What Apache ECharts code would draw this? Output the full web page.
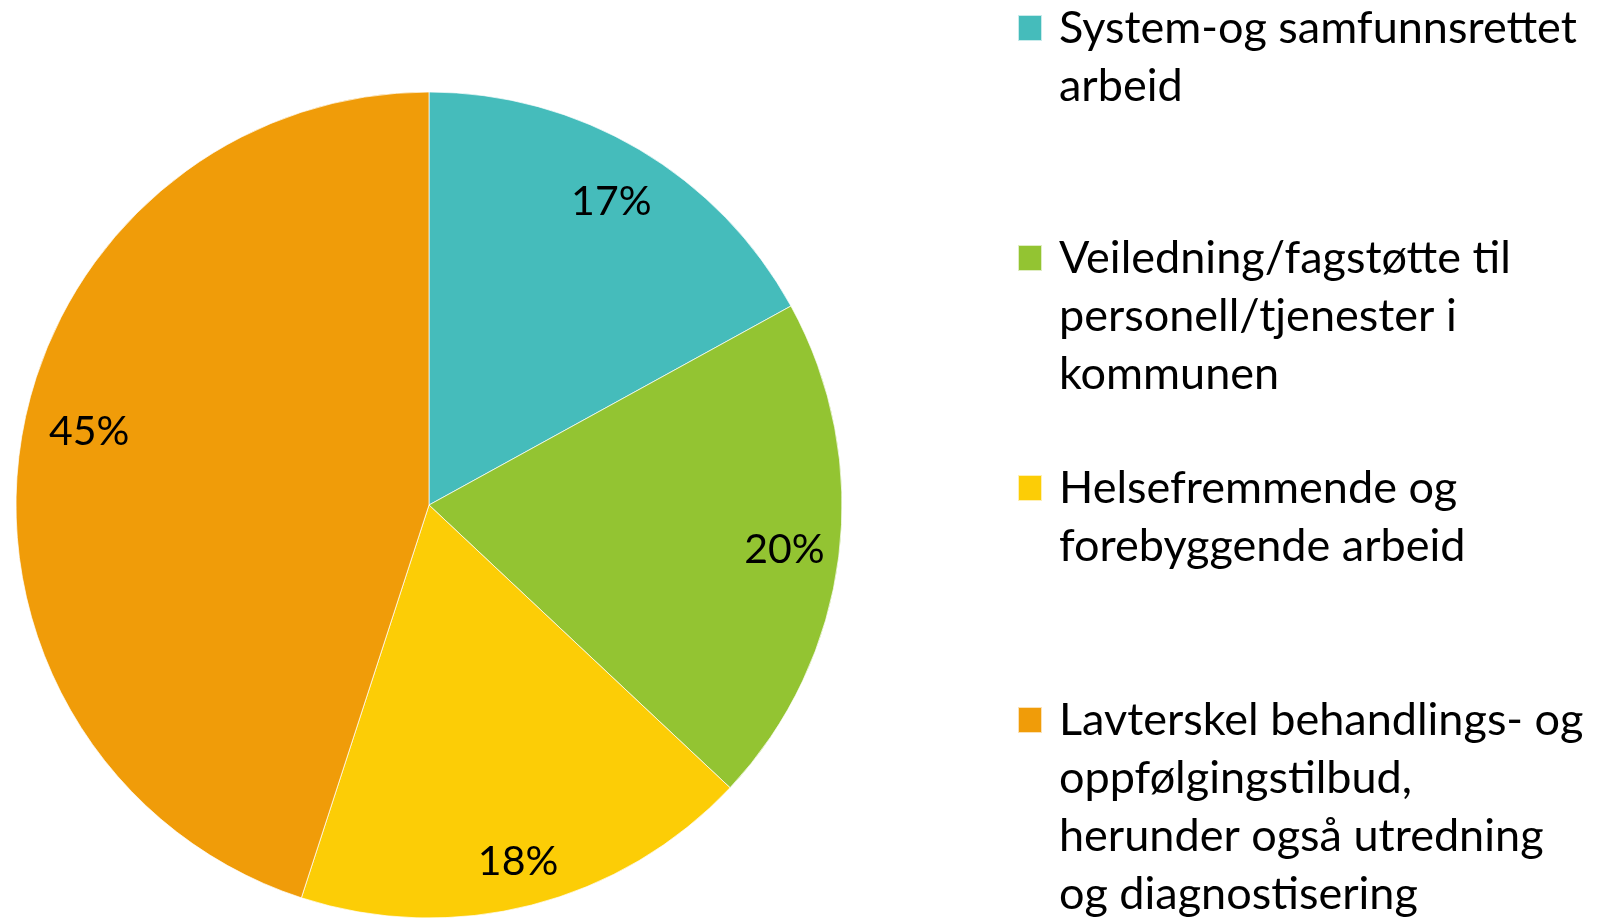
<!DOCTYPE html>
<html>
<head>
<meta charset="utf-8">
<title>Pie</title>
<script src="https://cdn.jsdelivr.net/npm/echarts@6/dist/echarts.min.js"></script>
<style>
  html, body { margin: 0; padding: 0; background: #fff; }
  #chart { width: 1599px; height: 919px; }
</style>
</head>
<body>
<div id="chart"></div>
<script>
// kategorier (linjeskift som i forklaringen)
const categoryLines = [
    ['System-og samfunnsrettet', 'arbeid'],
    ['Veiledning/fagstøtte til', 'personell/tjenester i', 'kommunen'],
    ['Helsefremmende og', 'forebyggende arbeid'],
    ['Lavterskel behandlings- og', 'oppfølgingstilbud,', 'herunder også utredning', 'og diagnostisering']
]
const values = [17, 20, 18, 45]
const colors = ['#45BCBB', '#93C432', '#FCCD06', '#F09C09']

const categories = categoryLines.map(l => l.join(' '))

const CX = 429, CY = 505, R = 413
const LINE_H = 58
const FONT = 'Lato, "Noto Sans", sans-serif'
// midtpunkt (y) for hver forklaringsrute
const legendCenters = [28, 258, 488, 720]
// små justeringer av etikettene, som i originalen
const labelOffsets = [[0, 5], [0, 0], [0, 10], [14, -17]]

const chart = echarts.init(document.getElementById('chart'))

const pieData = categories.map((name, i) => ({
    name,
    value: values[i],
    itemStyle: { color: colors[i] }
}))

// en forklaring per kategori, slik at de får lik avstand
const legends = categoryLines.map((lines, i) => {
    const n = lines.length
    return {
        data: [categories[i]],
        orient: 'vertical',
        left: 1017,
        top: legendCenters[i] - (2 * n - 1) * LINE_H / 2,
        padding: 0,
        itemWidth: 24,
        itemHeight: 26,
        icon: 'rect',
        selectedMode: false,
        // tomme linjer foran, så ruten står ved første linje
        formatter: () => '\n'.repeat(n - 1) + lines.join('\n'),
        textStyle: {
            fontFamily: FONT,
            fontSize: 45,
            lineHeight: LINE_H,
            color: '#000',
            padding: [0, 0, 0, 12]
        }
    }
})

chart.setOption({
    animation: false,
    legend: legends,
    series: [
        {
            type: 'pie',
            center: [CX, CY],
            radius: R,
            startAngle: 90,
            clockwise: true,
            label: { show: false },
            labelLine: { show: false },
            itemStyle: { borderColor: 'rgba(255,255,255,0.7)', borderWidth: 1 },
            data: pieData
        },
        {
            // bare for etikettene, litt ut mot kanten
            type: 'pie',
            center: [CX, CY],
            radius: [R * 0.72, R],
            startAngle: 90,
            clockwise: true,
            silent: true,
            itemStyle: { color: 'transparent' },
            label: {
                show: true,
                position: 'inside',
                formatter: '{c}%',
                fontFamily: FONT,
                fontSize: 41,
                color: '#000'
            },
            labelLine: { show: false },
            data: categories.map((name, i) => ({
                name,
                value: values[i],
                label: { offset: labelOffsets[i] }
            }))
        }
    ]
})
</script>
</body>
</html>
